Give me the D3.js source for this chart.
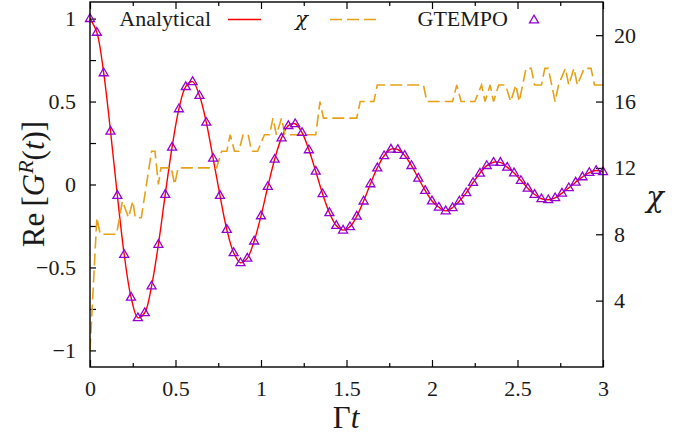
<!DOCTYPE html>
<html><head><meta charset="utf-8">
<script src="https://cdn.jsdelivr.net/npm/d3@7/dist/d3.min.js"></script>
<style>body{margin:0;background:#fff}svg{display:block}</style>
</head><body>
<svg id="chart" width="688" height="437"></svg>
<script>
// ---- data ----
const times = [0.00,0.04,0.08,0.12,0.16,0.20,0.24,0.28,0.32,0.36,0.40,0.44,0.48,0.52,0.56,0.60,0.64,0.68,0.72,0.76,
  0.80,0.84,0.88,0.92,0.96,1.00,1.04,1.08,1.12,1.16,1.20,1.24,1.28,1.32,1.36,1.40,1.44,1.48,1.52,1.56,
  1.60,1.64,1.68,1.72,1.76,1.80,1.84,1.88,1.92,1.96,2.00,2.04,2.08,2.12,2.16,2.20,2.24,2.28,2.32,2.36,
  2.40,2.44,2.48,2.52,2.56,2.60,2.64,2.68,2.72,2.76,2.80,2.84,2.88,2.92,2.96,3.00];
const analytical = [1.000,0.917,0.673,0.321,-0.066,-0.422,-0.679,-0.803,-0.773,-0.612,-0.361,-0.060,0.225,0.456,0.590,0.620,0.536,0.375,0.158,-0.066,
  -0.271,-0.411,-0.472,-0.444,-0.341,-0.189,-0.012,0.152,0.281,0.355,0.366,0.313,0.209,0.080,-0.056,-0.170,-0.247,-0.275,-0.255,-0.191,
  -0.100,0.004,0.100,0.173,0.213,0.211,0.175,0.114,0.038,-0.036,-0.099,-0.137,-0.159,-0.140,-0.100,-0.050,0.012,0.068,0.114,0.134,
  0.133,0.104,0.070,0.024,-0.022,-0.060,-0.086,-0.092,-0.080,-0.052,-0.020,0.014,0.046,0.072,0.084,0.077];
const gtempo = [1.000,0.917,0.673,0.321,-0.066,-0.422,-0.679,-0.803,-0.773,-0.612,-0.361,-0.060,0.225,0.456,0.590,0.620,0.536,0.375,0.158,-0.066,
  -0.271,-0.411,-0.472,-0.444,-0.341,-0.189,-0.012,0.152,0.281,0.355,0.366,0.313,0.209,0.080,-0.056,-0.170,-0.247,-0.275,-0.255,-0.191,
  -0.100,0.004,0.100,0.173,0.213,0.211,0.175,0.114,0.038,-0.036,-0.099,-0.137,-0.159,-0.140,-0.100,-0.050,0.012,0.068,0.114,0.134,
  0.133,0.104,0.070,0.024,-0.022,-0.060,-0.086,-0.092,-0.080,-0.052,-0.020,0.014,0.046,0.072,0.084,0.077];
const chiTimes = [0,0.04,0.06,0.155,0.19,0.225,0.25,0.265,0.30,0.36,0.38,0.40,0.415,0.475,0.495,0.515,0.74,0.77,0.80,0.82,
  0.845,0.87,0.895,0.925,0.945,0.98,1.02,1.05,1.07,1.09,1.12,1.14,1.32,1.345,1.365,1.56,1.58,1.66,1.68,1.95,
  1.97,2.12,2.145,2.17,2.25,2.29,2.31,2.34,2.36,2.39,2.43,2.46,2.49,2.51,2.55,2.58,2.60,2.64,2.66,2.68,
  2.72,2.74,2.78,2.80,2.83,2.85,2.89,2.93,2.95,3.00];
const chiValues = [1,9,8,8,10,9,10,9,9,13,13,11,12,12,11,12,12,13,13,14,
  13,13,14,14,13,13,14,14,15,14,15,14,14,16,15,15,16,16,17,17,
  16,16,17,16,16,17,16,17,16,17,17,16,17,16,18,18,17,17,18,18,
  16,17,18,17,18,17,18,18,17,17];
const xTickValues = [0,0.5,1,1.5,2,2.5,3];
const xTickLabels = ["0","0.5","1","1.5","2","2.5","3"];
const xMinorTicks = [0.25,0.75,1.25,1.75,2.25,2.75];
const yTickValues = [-1,-0.5,0,0.5,1];
const yTickLabels = ["\u22121","\u22120.5","0","0.5","1"];
const yMinorTicks = [-0.75,-0.25,0.25,0.75];
const chiTickValues = [4,8,12,16,20];
const legendLabels = ["Analytical","\u03c7","GTEMPO"];

// ---- layout ----
const svg = d3.select("#chart");
const L = 90, R = 603, T = 2, B = 367;
const FONT = "'Liberation Serif', 'Times New Roman', serif";
const GREEK = "'DejaVu Serif', serif";
const INK = "#1a1a1a";
const RED = "#ff0000", ORANGE = "#e6a117", PURPLE = "#9400d3";

const x = d3.scaleLinear().domain([0,3]).range([L,R]);
const y = d3.scaleLinear().domain([-1.1,1.1]).range([B,T]);
const y2 = d3.scaleLinear().domain([0,22]).range([B,T]);

function styleAxis(g){
  g.select(".domain").remove();
  g.selectAll("line").attr("stroke","#000").attr("stroke-width",1.2);
  g.selectAll("text").attr("font-family",FONT).attr("font-size",22).attr("fill",INK);
}

// bottom axis
svg.append("g").attr("transform",`translate(0,${B})`)
  .call(d3.axisBottom(x).tickValues(xTickValues).tickSize(-7).tickPadding(13)
    .tickFormat((d,i)=>xTickLabels[i])).call(styleAxis);
svg.append("g").attr("transform",`translate(0,${B})`)
  .call(d3.axisBottom(x).tickValues(xMinorTicks).tickSize(-4).tickFormat(""))
  .call(styleAxis);
// top axis (mirror ticks)
svg.append("g").attr("transform",`translate(0,${T})`)
  .call(d3.axisTop(x).tickValues(xTickValues).tickSize(-7).tickFormat("")).call(styleAxis);
svg.append("g").attr("transform",`translate(0,${T})`)
  .call(d3.axisTop(x).tickValues(xMinorTicks).tickSize(-4).tickFormat("")).call(styleAxis);
// left axis
svg.append("g").attr("transform",`translate(${L},0)`)
  .call(d3.axisLeft(y).tickValues(yTickValues).tickSize(-6).tickPadding(14)
    .tickFormat((d,i)=>yTickLabels[i])).call(styleAxis);
svg.append("g").attr("transform",`translate(${L},0)`)
  .call(d3.axisLeft(y).tickValues(yMinorTicks).tickSize(-6).tickFormat(""))
  .call(styleAxis);
// right axis
svg.append("g").attr("transform",`translate(${R},0)`)
  .call(d3.axisRight(y2).tickValues(chiTickValues).tickSize(-7).tickPadding(11))
  .call(styleAxis);

// clip
svg.append("clipPath").attr("id","clip").append("rect")
  .attr("x",L).attr("y",T).attr("width",R-L).attr("height",B-T);
const plot = svg.append("g").attr("clip-path","url(#clip)");

// analytical line
const line = d3.line().x((d,i)=>x(times[i])).y(d=>y(d)).curve(d3.curveCatmullRom.alpha(0.5));
plot.append("path").attr("d",line(analytical)).attr("fill","none")
  .attr("stroke",RED).attr("stroke-width",1.4);

// chi dashed line
const chiLine = d3.line().x((d,i)=>x(chiTimes[i])).y(d=>y2(d));
plot.append("path").attr("d",chiLine(chiValues)).attr("fill","none")
  .attr("stroke",ORANGE).attr("stroke-width",1.6).attr("stroke-dasharray","12,5");

// GTEMPO markers
const tri = "M0,-4.8L4.5,2.9L-4.5,2.9Z";
svg.append("g").selectAll("path").data(gtempo).join("path")
  .attr("d",tri)
  .attr("transform",(d,i)=>`translate(${x(times[i])},${y(d)})`)
  .attr("fill","none").attr("stroke",PURPLE).attr("stroke-width",1.3);

// frame
svg.append("rect").attr("x",L).attr("y",T).attr("width",R-L).attr("height",B-T)
  .attr("fill","none").attr("stroke","#000").attr("stroke-width",1.4);

// legend
const lg = svg.append("g").attr("font-family",FONT).attr("font-size",22).attr("fill",INK);
lg.append("text").attr("x",211).attr("y",26).attr("text-anchor","end").text(legendLabels[0]);
lg.append("line").attr("x1",228).attr("x2",261).attr("y1",19.5).attr("y2",19.5)
  .attr("stroke",RED).attr("stroke-width",1.4);
lg.append("text").attr("x",308).attr("y",26).attr("text-anchor","end")
  .attr("font-family",GREEK).attr("font-size",21).attr("font-style","italic").text(legendLabels[1]);
lg.append("line").attr("x1",330).attr("x2",380).attr("y1",19.5).attr("y2",19.5)
  .attr("stroke",ORANGE).attr("stroke-width",1.6).attr("stroke-dasharray","12,5");
lg.append("text").attr("x",508).attr("y",26).attr("text-anchor","end").text(legendLabels[2]);
lg.append("path").attr("d",tri).attr("transform","translate(534,20)")
  .attr("fill","none").attr("stroke",PURPLE).attr("stroke-width",1.3);

// axis titles
const xt = svg.append("text").attr("x",346).attr("y",428).attr("text-anchor","middle")
  .attr("font-family",FONT).attr("font-size",31).attr("fill",INK);
xt.append("tspan").text("\u0393");
xt.append("tspan").attr("font-style","italic").text("t");

const yt = svg.append("text").attr("transform","translate(44,184) rotate(-90)")
  .attr("text-anchor","middle").attr("font-family",FONT).attr("font-size",31).attr("fill",INK);
yt.append("tspan").text("Re\u2009[");
yt.append("tspan").attr("font-style","italic").text("G");
yt.append("tspan").attr("font-style","italic").attr("font-size",22).attr("dy",-11).text("R");
yt.append("tspan").attr("dy",11).text("(");
yt.append("tspan").attr("font-style","italic").text("t");
yt.append("tspan").text(")]");

svg.append("text").attr("x",655).attr("y",207).attr("text-anchor","middle")
  .attr("font-family",GREEK).attr("font-size",29).attr("font-style","italic").attr("fill",INK)
  .text("\u03c7");
</script>
</body></html>
